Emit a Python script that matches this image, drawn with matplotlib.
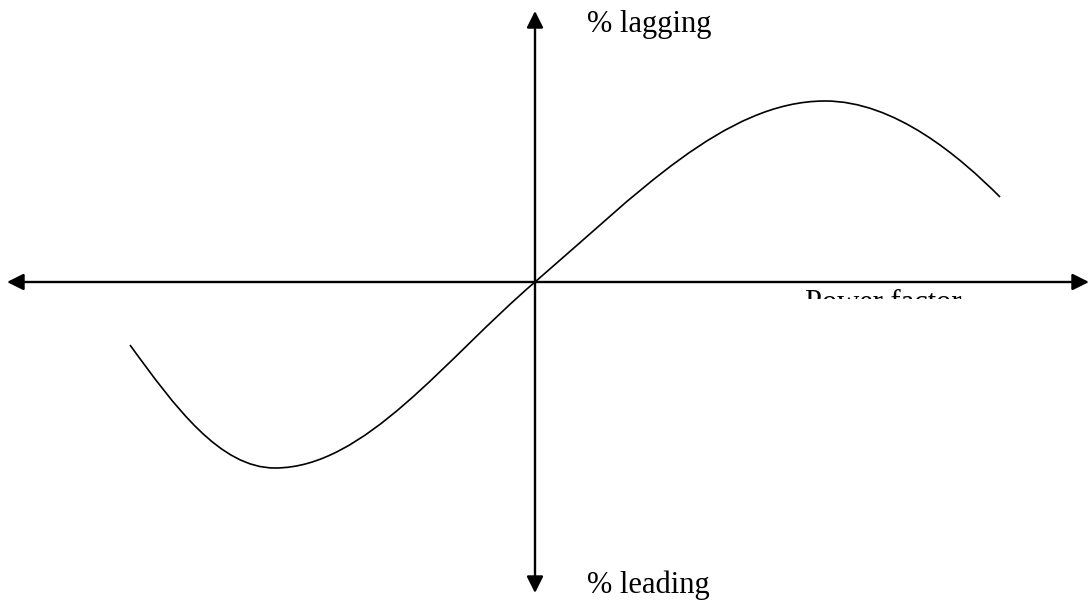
import numpy as np
import matplotlib
matplotlib.use("Agg")
import matplotlib.pyplot as plt
from matplotlib.path import Path
from matplotlib.patches import PathPatch
from matplotlib.transforms import Bbox, TransformedBbox

# curve: anchors and bezier handles, origin = axis crossing
anchor_x = [-405, -260, 0, 290, 465]
anchor_y = [-63, -186, 0, 181, 85]
handle_x = [(-360, -315), (-170, -90), (100, 190), (360, 425)]
handle_y = [(-125, -186), (-186, -77), (86, 181), (181, 125)]

label_top = "% lagging"
label_bottom = "% leading"
label_x = "Power factor"

fig = plt.figure(figsize=(10.89, 6.03), dpi=100)
ax = fig.add_axes([0, 0, 1, 1])
ax.set_xlim(-535, 554)
ax.set_ylim(-321, 282)
ax.axis("off")

# axes with arrow heads
arrow = dict(arrowstyle="<|-|>", color="black", lw=1.7, mutation_scale=25,
             shrinkA=0, shrinkB=0)
ax.annotate("", xy=(-528, 0), xytext=(554, 0), arrowprops=arrow)
ax.annotate("", xy=(0, 271), xytext=(0, -311), arrowprops=arrow)

verts = [(anchor_x[0], anchor_y[0])]
codes = [Path.MOVETO]
for i in range(len(handle_x)):
    verts += [(handle_x[i][0], handle_y[i][0]), (handle_x[i][1], handle_y[i][1]),
              (anchor_x[i + 1], anchor_y[i + 1])]
    codes += [Path.CURVE4] * 3
ax.add_patch(PathPatch(Path(verts, codes), fill=False, lw=1.2, color="black"))

font = dict(family="Liberation Serif", fontsize=22, color="black")
ax.text(52, 250, label_top, va="baseline", ha="left", **font)
ax.text(52, -311, label_bottom, va="baseline", ha="left", **font)
# the x label is cut off just below its top
t = ax.text(270, -29, label_x, va="baseline", ha="left", **font)
t.set_clip_box(TransformedBbox(Bbox([[200, -17], [500, 0]]), ax.transData))
t.set_clip_on(True)

fig.savefig("out.png", dpi=100)
